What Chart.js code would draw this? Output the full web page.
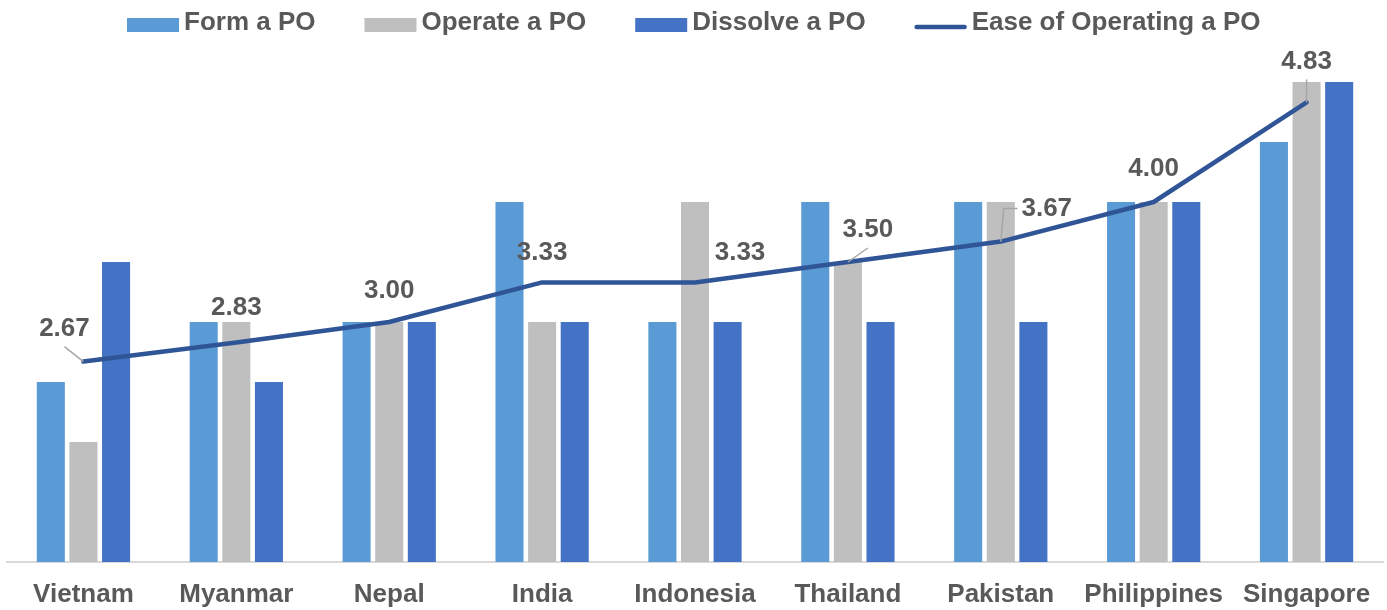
<!DOCTYPE html>
<html>
<head>
<meta charset="utf-8">
<script src="https://cdn.jsdelivr.net/npm/chart.js@4.4.0/dist/chart.umd.min.js"></script>
<style>
    html, body { margin: 0; padding: 0; background: #fff; }
    #contenedor { width: 1387px; height: 610px; position: relative; }
</style>
</head>
<body>
<div id="contenedor"><canvas id="grafica"></canvas></div>
<script>
// Datos
const paises = ['Vietnam', 'Myanmar', 'Nepal', 'India', 'Indonesia', 'Thailand', 'Pakistan', 'Philippines', 'Singapore'];
const formarPO = [2.5, 3, 3, 4, 3, 4, 4, 4, 4.5];
const operarPO = [2, 3, 3, 3, 4, 3.5, 4, 4, 5];
const disolverPO = [3.5, 2.5, 3, 3, 3, 3, 3, 4, 5];
const facilidadPO = [2.67, 2.83, 3.00, 3.33, 3.33, 3.50, 3.67, 4.00, 4.83];

const FUENTE = '"Liberation Sans", Arial, sans-serif';
const GRIS_TEXTO = '#595959';

// Posición de las etiquetas respecto a cada punto de la línea (solo estilo)
const desplazamientos = [[-19, -33], [0, -35], [0, -31], [0, -30], [45, -30], [20, -32], [46, -33], [0, -33], [0, -41]];
const guias = ['abajo', null, null, null, null, 'abajo', 'codo', null, 'abajo'];

// Etiquetas de datos de la línea, con sus líneas guía
const etiquetasLinea = {
    id: 'etiquetasLinea',
    afterDatasetsDraw(chart) {
        const idx = chart.data.datasets.findIndex(d => d.type === 'line');
        const meta = chart.getDatasetMeta(idx);
        const ctx = chart.ctx;
        ctx.save();
        ctx.font = `bold 26px ${FUENTE}`;
        ctx.textAlign = 'center';
        ctx.textBaseline = 'middle';
        meta.data.forEach((pt, i) => {
            const lx = pt.x + desplazamientos[i][0];
            const ly = pt.y + desplazamientos[i][1];
            const texto = chart.data.datasets[idx].data[i].toFixed(2);
            const ancho = ctx.measureText(texto).width;
            ctx.strokeStyle = '#A6A6A6';
            ctx.lineWidth = 1.5;
            if (guias[i] === 'abajo') {
                ctx.beginPath(); ctx.moveTo(lx, ly + 18); ctx.lineTo(pt.x, pt.y); ctx.stroke();
            } else if (guias[i] === 'codo') {
                ctx.beginPath(); ctx.moveTo(lx - ancho / 2 - 4, ly); ctx.lineTo(pt.x + 3, ly); ctx.lineTo(pt.x, pt.y); ctx.stroke();
            }
            ctx.fillStyle = GRIS_TEXTO;
            ctx.fillText(texto, lx, ly);
        });
        ctx.restore();
    }
};

// Leyenda dibujada a mano para respetar los espacios del original
const leyenda = {
    id: 'leyenda',
    afterDraw(chart) {
        const ctx = chart.ctx;
        ctx.save();
        ctx.font = `bold 26px ${FUENTE}`;
        ctx.textBaseline = 'middle';
        ctx.textAlign = 'left';
        let x = 127;
        chart.data.datasets.forEach(ds => {
            if (ds.type === 'line') {
                ctx.strokeStyle = ds.borderColor;
                ctx.lineWidth = 4.5;
                ctx.lineCap = 'round';
                ctx.beginPath(); ctx.moveTo(x + 2, 27); ctx.lineTo(x + 50, 27); ctx.stroke();
            } else {
                ctx.fillStyle = ds.backgroundColor;
                ctx.fillRect(x, 18, 52, 14);
            }
            ctx.fillStyle = GRIS_TEXTO;
            ctx.fillText(ds.label, x + 57, 23);
            x += 57 + ctx.measureText(ds.label).width + 49;
        });
        ctx.restore();
    }
};

const ctx = document.getElementById('grafica').getContext('2d');
new Chart(ctx, {
    type: 'bar',
    data: {
        labels: paises,
        datasets: [
            { type: 'bar', label: 'Form a PO', data: formarPO, backgroundColor: '#5B9BD5', order: 1 },
            { type: 'bar', label: 'Operate a PO', data: operarPO, backgroundColor: '#BFBFBF', order: 1 },
            { type: 'bar', label: 'Dissolve a PO', data: disolverPO, backgroundColor: '#4472C4', order: 1 },
            { type: 'line', label: 'Ease of Operating a PO', data: facilidadPO, borderColor: '#2F5597', backgroundColor: '#2F5597',
              borderWidth: 4.5, pointRadius: 0, tension: 0, borderCapStyle: 'round', borderJoinStyle: 'round', fill: false, order: 0 }
        ]
    },
    options: {
        responsive: true,
        maintainAspectRatio: false,
        animation: false,
        devicePixelRatio: 1,
        datasets: { bar: { barPercentage: 0.86, categoryPercentage: 0.64 } },
        layout: { padding: { top: 82, left: 7, right: 4, bottom: 0 } },
        scales: {
            x: {
                grid: { display: false },
                border: { display: true, color: '#D9D9D9', width: 2 },
                ticks: { color: GRIS_TEXTO, font: { family: FUENTE, size: 26, weight: 'bold' }, padding: 9, maxRotation: 0, autoSkip: false },
                afterFit: (escala) => { escala.height = 48; }
            },
            y: { display: false, min: 1, max: 5 }
        },
        plugins: { legend: { display: false }, tooltip: { enabled: false } }
    },
    plugins: [etiquetasLinea, leyenda]
});
</script>
</body>
</html>
